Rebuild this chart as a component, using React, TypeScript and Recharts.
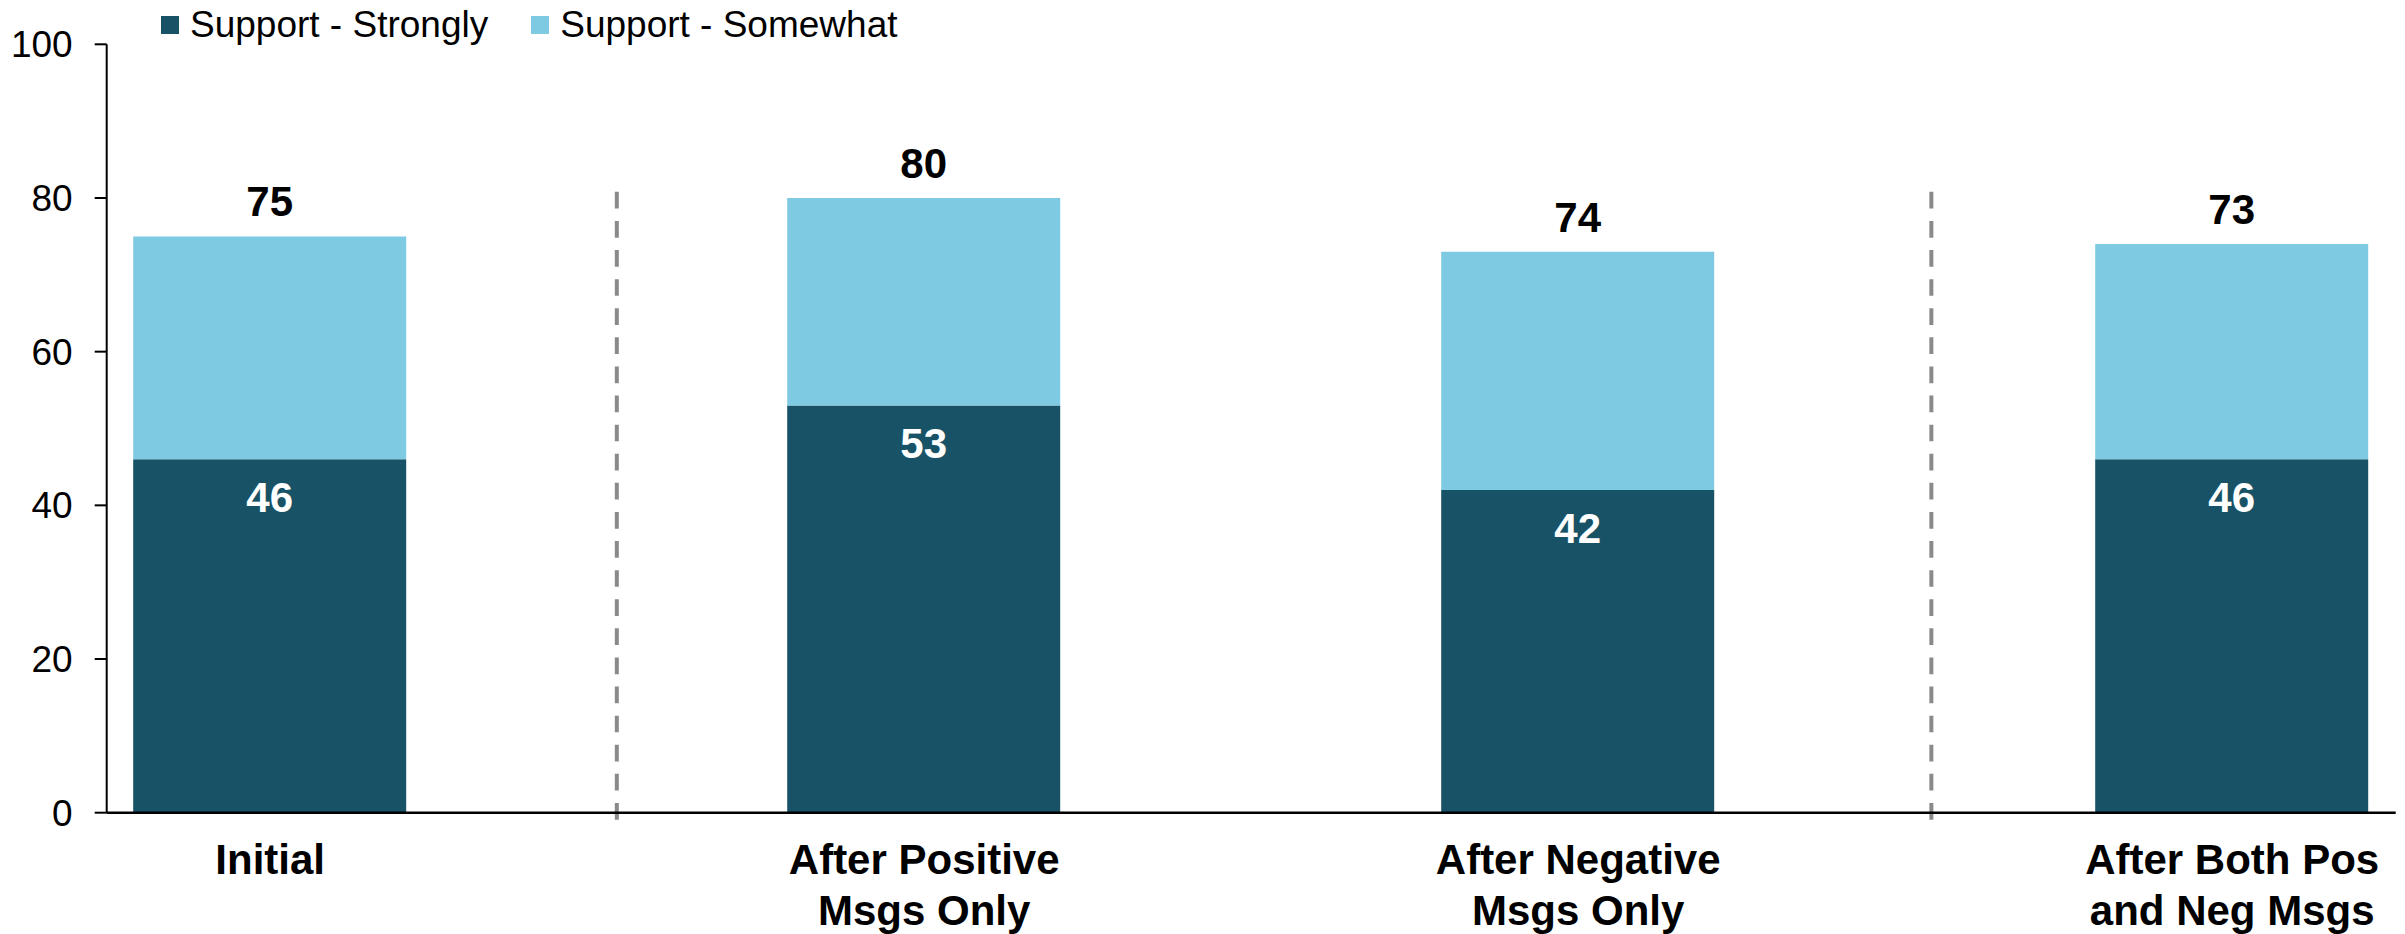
import { BarChart, Bar, XAxis, YAxis, LabelList, Legend, ReferenceLine } from "recharts";

const CATEGORIES = ["Initial", "After Positive Msgs Only", "After Negative Msgs Only", "After Both Pos and Neg Msgs"];
const CATEGORY_LINES = [
  ["Initial"],
  ["After Positive", "Msgs Only"],
  ["After Negative", "Msgs Only"],
  ["After Both Pos", "and Neg Msgs"],
];
const STRONGLY = [46, 53, 42, 46];
const SOMEWHAT = [29, 27, 31, 28];
// printed totals (as shown on the original, which has the last two swapped vs. the bars)
const TOTAL_LABELS = [75, 80, 74, 73];
const Y_TICKS = [0, 20, 40, 60, 80, 100];
// dashed separators sit between the category groups
const DIVIDERS = [0.53, 2.54];
const DIVIDER_SPAN = [80.8, -1.1];

const DARK = "#185266";
const LIGHT = "#7fcae3";
const FONT = "'Liberation Sans', Arial, sans-serif";

const data = CATEGORIES.map((name, i) => ({
  x: i,
  name,
  strongly: STRONGLY[i],
  somewhat: SOMEWHAT[i],
  total: TOTAL_LABELS[i],
}));

function CategoryTick(props: any) {
  const { x, y, payload } = props;
  const lines = CATEGORY_LINES[payload.value] || [];
  return (
    <text x={x} y={y} textAnchor="middle" fontFamily={FONT} fontSize={42} fontWeight="bold" fill="#000">
      {lines.map((l, i) => (
        <tspan key={i} x={x} dy={i === 0 ? 61.3 : 50.6}>
          {l}
        </tspan>
      ))}
    </text>
  );
}

function LegendContent() {
  const items = [
    { label: "Support - Strongly", color: DARK },
    { label: "Support - Somewhat", color: LIGHT },
  ];
  return (
    <div style={{ display: "flex", alignItems: "center", fontFamily: FONT, fontSize: 37, color: "#000" }}>
      {items.map((it, i) => (
        <div key={i} style={{ display: "flex", alignItems: "center", marginRight: 43 }}>
          <span style={{ width: 18, height: 18, background: it.color, marginRight: 11, display: "inline-block" }} />
          <span>{it.label}</span>
        </div>
      ))}
    </div>
  );
}

export default function App() {
  return (
    <div style={{ position: "absolute", left: 0, top: 0, background: "#fff" }}>
      <BarChart
        width={2405}
        height={934}
        data={data}
        margin={{ top: 44.3, right: 9.3, left: 0, bottom: 0 }}
      >
        <XAxis
          type="number"
          dataKey="x"
          domain={[-0.25, 3.25]}
          ticks={[0, 1, 2, 3]}
          allowDataOverflow
          height={121.3}
          tickSize={0}
          tickMargin={0}
          tickLine={false}
          axisLine={{ stroke: "#000", strokeWidth: 2.5 }}
          tick={<CategoryTick />}
        />
        <YAxis
          domain={[0, 100]}
          ticks={Y_TICKS}
          width={106.7}
          tickSize={12}
          tickMargin={22}
          axisLine={{ stroke: "#000", strokeWidth: 2 }}
          tickLine={{ stroke: "#000", strokeWidth: 2 }}
          tick={{ fill: "#000", fontSize: 37, fontFamily: FONT }}
        />
        <Legend
          verticalAlign="middle"
          align="center"
          layout="horizontal"
          wrapperStyle={{ top: 3.5, left: 161, width: "auto" }}
          content={<LegendContent />}
        />
        {DIVIDERS.map((d) => (
          <ReferenceLine
            key={d}
            segment={[
              { x: d, y: DIVIDER_SPAN[0] },
              { x: d, y: DIVIDER_SPAN[1] },
            ]}
            ifOverflow="visible"
            stroke="#8a8a8a"
            strokeWidth={4}
            strokeDasharray="16.7 12.4"
          />
        ))}
        <Bar dataKey="strongly" stackId="s" fill={DARK} barSize={273} isAnimationActive={false}>
          <LabelList
            dataKey="strongly"
            position="insideTop"
            offset={23}
            fill="#fff"
            fontSize={42}
            fontWeight="bold"
            fontFamily={FONT}
          />
        </Bar>
        <Bar dataKey="somewhat" stackId="s" fill={LIGHT} barSize={273} isAnimationActive={false}>
          <LabelList
            dataKey="total"
            position="top"
            offset={20}
            fill="#000"
            fontSize={42}
            fontWeight="bold"
            fontFamily={FONT}
          />
        </Bar>
      </BarChart>
    </div>
  );
}
